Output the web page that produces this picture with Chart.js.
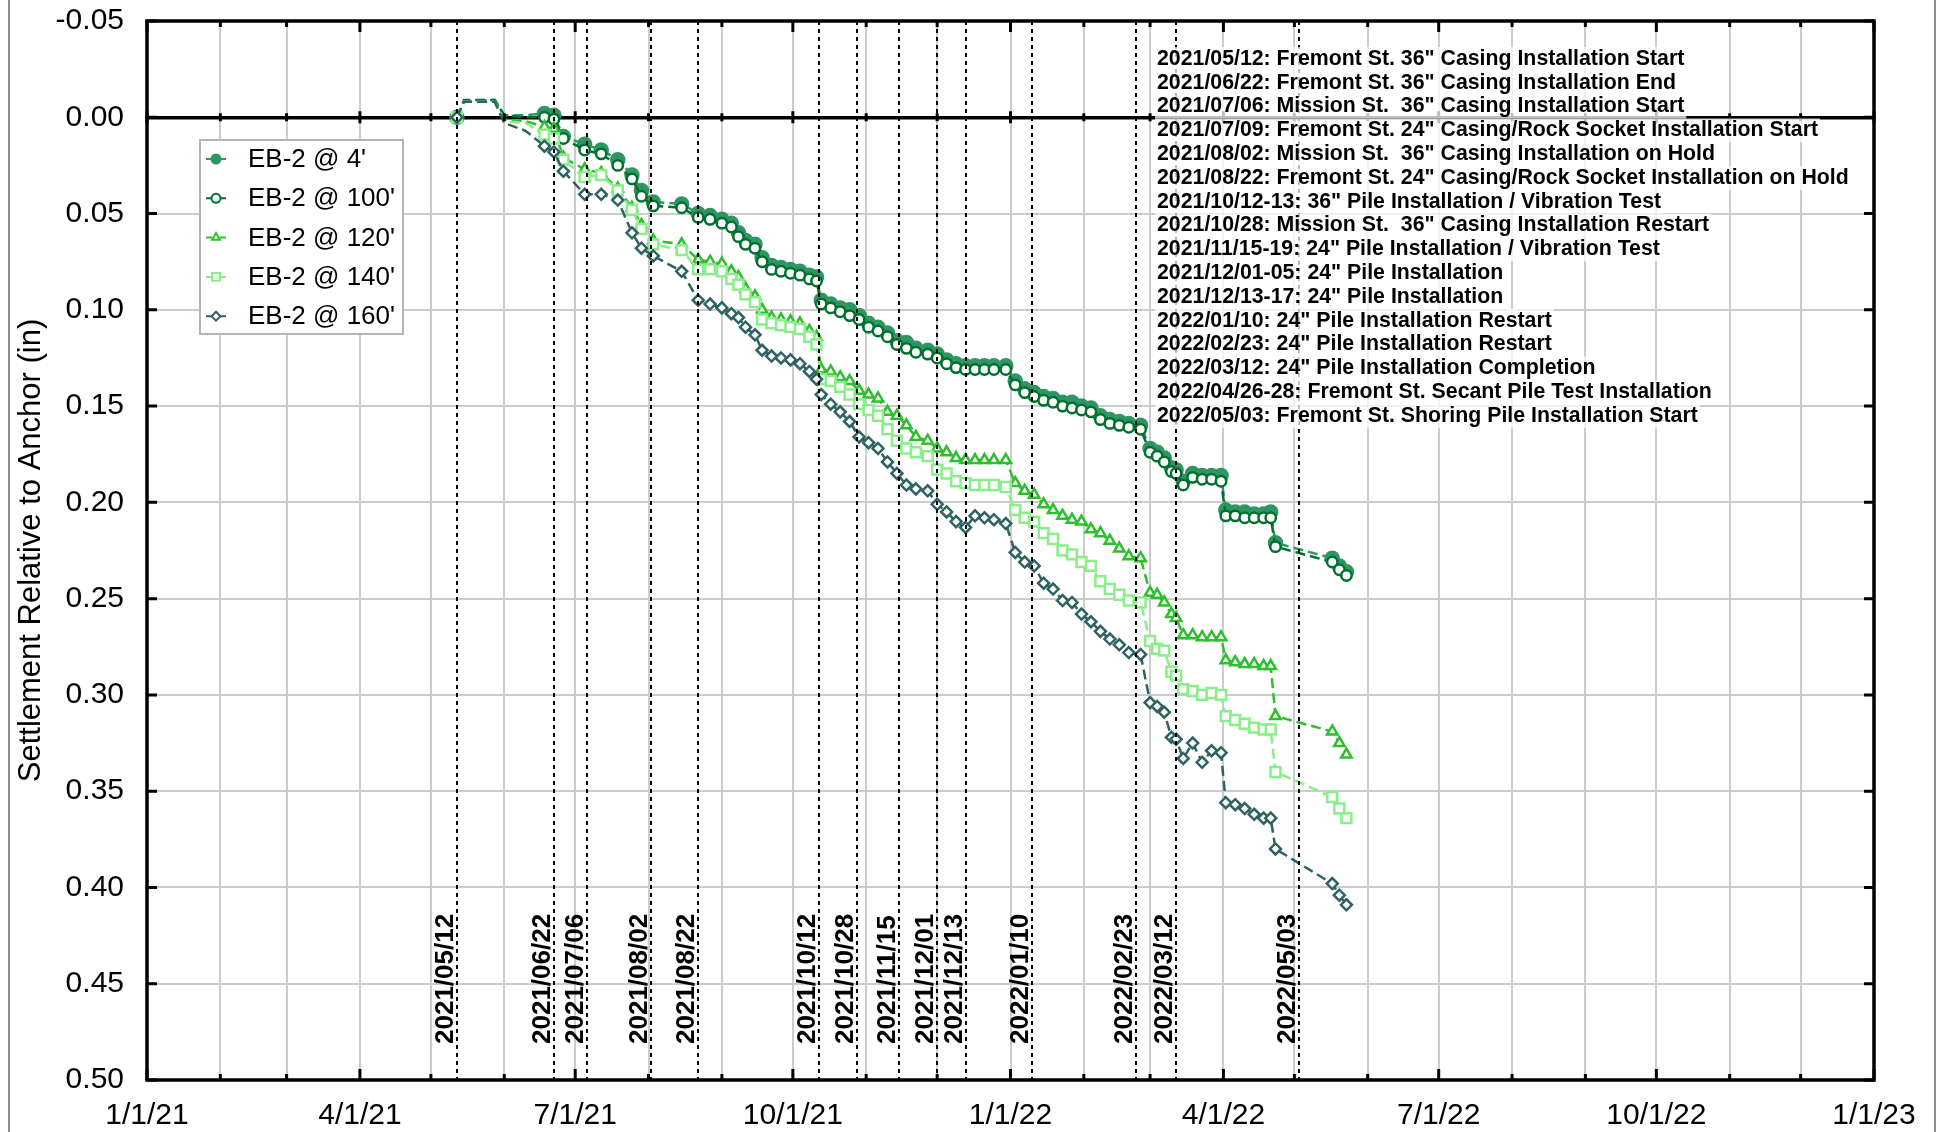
<!DOCTYPE html>
<html>
<head>
<meta charset="utf-8">
<title>EB-2 Settlement</title>
<script src="https://cdn.jsdelivr.net/npm/chart.js@4.4.1/dist/chart.umd.min.js"></script>
<style>
  html, body { margin: 0; padding: 0; background: #fff; }
  #wrap { width: 1940px; height: 1132px; position: relative; }
</style>
</head>
<body>
<div id="wrap"><canvas id="settlement-chart"></canvas></div>
<script>
// ---- data ----
const dates = [
  '2021-05-12', '2021-05-15', '2021-05-28', '2021-06-01', '2021-06-10', '2021-06-18', '2021-06-22', '2021-06-26',
  '2021-07-05', '2021-07-12', '2021-07-19', '2021-07-25', '2021-07-29', '2021-08-03', '2021-08-15', '2021-08-22',
  '2021-08-27', '2021-09-01', '2021-09-05', '2021-09-08', '2021-09-11', '2021-09-15', '2021-09-18', '2021-09-22',
  '2021-09-26', '2021-09-30', '2021-10-04', '2021-10-08', '2021-10-11', '2021-10-13', '2021-10-17', '2021-10-21',
  '2021-10-25', '2021-10-29', '2021-11-02', '2021-11-06', '2021-11-10', '2021-11-14', '2021-11-18', '2021-11-22',
  '2021-11-27', '2021-12-01', '2021-12-05', '2021-12-09', '2021-12-13', '2021-12-17', '2021-12-21', '2021-12-25',
  '2021-12-30', '2022-01-03', '2022-01-07', '2022-01-11', '2022-01-15', '2022-01-19', '2022-01-23', '2022-01-27',
  '2022-01-31', '2022-02-04', '2022-02-08', '2022-02-12', '2022-02-16', '2022-02-20', '2022-02-25', '2022-03-01',
  '2022-03-04', '2022-03-07', '2022-03-10', '2022-03-12', '2022-03-15', '2022-03-19', '2022-03-23', '2022-03-27',
  '2022-03-31', '2022-04-02', '2022-04-06', '2022-04-10', '2022-04-14', '2022-04-18', '2022-04-21', '2022-04-23',
  '2022-05-17', '2022-05-20', '2022-05-23'
]

const eb4 = [
  0.000, -0.008, -0.009, -0.001, -0.001, -0.002, -0.001, 0.010,
  0.014, 0.017, 0.022, 0.030, 0.038, 0.044, 0.045, 0.050,
  0.051, 0.053, 0.055, 0.060, 0.064, 0.066, 0.073, 0.077,
  0.078, 0.079, 0.080, 0.082, 0.083, 0.095, 0.097, 0.099,
  0.100, 0.103, 0.107, 0.109, 0.112, 0.116, 0.117, 0.120,
  0.121, 0.123, 0.126, 0.128, 0.129, 0.129, 0.129, 0.129,
  0.129, 0.137, 0.141, 0.143, 0.145, 0.146, 0.148, 0.148,
  0.150, 0.151, 0.155, 0.157, 0.158, 0.159, 0.160, 0.172,
  0.174, 0.177, 0.182, 0.183, 0.189, 0.185, 0.186, 0.186,
  0.186, 0.204, 0.205, 0.205, 0.206, 0.206, 0.205, 0.221,
  0.229, 0.233, 0.236
]

const eb100 = [
  0.000, -0.009, -0.009, -0.001, 0.000, 0.000, 0.001, 0.011,
  0.017, 0.019, 0.025, 0.032, 0.041, 0.046, 0.047, 0.052,
  0.053, 0.055, 0.057, 0.062, 0.066, 0.068, 0.075, 0.079,
  0.080, 0.081, 0.082, 0.084, 0.085, 0.097, 0.099, 0.101,
  0.103, 0.105, 0.109, 0.111, 0.114, 0.118, 0.120, 0.122,
  0.123, 0.125, 0.128, 0.130, 0.131, 0.131, 0.131, 0.131,
  0.131, 0.139, 0.143, 0.145, 0.147, 0.148, 0.150, 0.151,
  0.152, 0.153, 0.157, 0.159, 0.160, 0.161, 0.162, 0.174,
  0.176, 0.179, 0.184, 0.185, 0.191, 0.187, 0.188, 0.188,
  0.189, 0.207, 0.207, 0.208, 0.208, 0.208, 0.208, 0.223,
  0.231, 0.235, 0.238
]

const eb120 = [
  0.000, -0.008, -0.008, 0.001, 0.002, 0.005, 0.006, 0.021,
  0.027, 0.029, 0.037, 0.047, 0.056, 0.064, 0.066, 0.074,
  0.075, 0.076, 0.080, 0.083, 0.089, 0.093, 0.100, 0.104,
  0.105, 0.106, 0.107, 0.111, 0.114, 0.131, 0.132, 0.135,
  0.137, 0.142, 0.144, 0.146, 0.153, 0.155, 0.160, 0.166,
  0.168, 0.172, 0.174, 0.177, 0.178, 0.178, 0.178, 0.178,
  0.178, 0.190, 0.194, 0.196, 0.201, 0.204, 0.207, 0.209,
  0.210, 0.214, 0.216, 0.220, 0.224, 0.228, 0.229, 0.247,
  0.248, 0.252, 0.258, 0.260, 0.269, 0.269, 0.270, 0.270,
  0.270, 0.282, 0.283, 0.284, 0.284, 0.285, 0.285, 0.311,
  0.319, 0.325, 0.331
]

const eb140 = [
  0.000, -0.008, -0.008, 0.002, 0.003, 0.009, 0.011, 0.022,
  0.031, 0.030, 0.038, 0.048, 0.058, 0.066, 0.069, 0.079,
  0.079, 0.080, 0.084, 0.087, 0.092, 0.096, 0.105, 0.107,
  0.108, 0.109, 0.110, 0.114, 0.118, 0.136, 0.137, 0.140,
  0.144, 0.149, 0.152, 0.155, 0.162, 0.168, 0.172, 0.174,
  0.176, 0.183, 0.185, 0.189, 0.190, 0.191, 0.191, 0.191,
  0.192, 0.204, 0.208, 0.210, 0.216, 0.219, 0.225, 0.227,
  0.231, 0.233, 0.241, 0.245, 0.248, 0.251, 0.252, 0.272,
  0.276, 0.277, 0.288, 0.290, 0.297, 0.298, 0.300, 0.299,
  0.300, 0.311, 0.313, 0.315, 0.317, 0.318, 0.318, 0.340,
  0.353, 0.359, 0.364
]

const eb160 = [
  0.000, -0.008, -0.008, 0.003, 0.007, 0.015, 0.018, 0.028,
  0.040, 0.040, 0.043, 0.060, 0.068, 0.072, 0.080, 0.095,
  0.097, 0.099, 0.102, 0.104, 0.109, 0.113, 0.121, 0.124,
  0.125, 0.126, 0.128, 0.132, 0.136, 0.144, 0.149, 0.153,
  0.158, 0.166, 0.169, 0.172, 0.179, 0.185, 0.191, 0.193,
  0.194, 0.201, 0.205, 0.210, 0.213, 0.207, 0.208, 0.209,
  0.211, 0.226, 0.231, 0.233, 0.242, 0.245, 0.251, 0.252,
  0.258, 0.262, 0.267, 0.271, 0.274, 0.278, 0.279, 0.304,
  0.306, 0.309, 0.322, 0.323, 0.333, 0.325, 0.335, 0.329,
  0.330, 0.356, 0.357, 0.359, 0.362, 0.364, 0.364, 0.380,
  0.398, 0.404, 0.409
]

const seriesNames = ["EB-2 @ 4'", "EB-2 @ 100'", "EB-2 @ 120'", "EB-2 @ 140'", "EB-2 @ 160'"]

const eventDates = [
  '2021/05/12', '2021/06/22', '2021/07/06', '2021/08/02', '2021/08/22', '2021/10/12', '2021/10/28',
  '2021/11/15', '2021/12/01', '2021/12/13', '2022/01/10', '2022/02/23', '2022/03/12', '2022/05/03'
]

const notes = [
  '2021/05/12: Fremont St. 36" Casing Installation Start',
  '2021/06/22: Fremont St. 36" Casing Installation End',
  '2021/07/06: Mission St.  36" Casing Installation Start',
  '2021/07/09: Fremont St. 24" Casing/Rock Socket Installation Start',
  '2021/08/02: Mission St.  36" Casing Installation on Hold',
  '2021/08/22: Fremont St. 24" Casing/Rock Socket Installation on Hold',
  '2021/10/12-13: 36" Pile Installation / Vibration Test',
  '2021/10/28: Mission St.  36" Casing Installation Restart',
  '2021/11/15-19: 24" Pile Installation / Vibration Test',
  '2021/12/01-05: 24" Pile Installation',
  '2021/12/13-17: 24" Pile Installation',
  '2022/01/10: 24" Pile Installation Restart',
  '2022/02/23: 24" Pile Installation Restart',
  '2022/03/12: 24" Pile Installation Completion',
  '2022/04/26-28: Fremont St. Secant Pile Test Installation',
  '2022/05/03: Fremont St. Shoring Pile Installation Start'
]

const quarterTicks = ['2021-01-01', '2021-04-01', '2021-07-01', '2021-10-01', '2022-01-01',
  '2022-04-01', '2022-07-01', '2022-10-01', '2023-01-01']
const quarterLabels = ['1/1/21', '4/1/21', '7/1/21', '10/1/21', '1/1/22', '4/1/22', '7/1/22', '10/1/22', '1/1/23']

// ---- helpers ----
const FONT = "'Liberation Sans', Arial, Helvetica, sans-serif"
const DAY = 86400000
const ORIGIN = Date.UTC(2021, 0, 1)

function dayNum(s) {
  const [y, m, d] = s.split(/[-\/]/).map(Number)
  return (Date.UTC(y, m - 1, d) - ORIGIN) / DAY
}

const monthTicks = []
for (let y = 2021; y <= 2022; y++) {
  for (let m = 1; m <= 12; m++) monthTicks.push(dayNum(`${y}-${m}-1`))
}
monthTicks.push(dayNum('2023-1-1'))

const quarterMap = new Map(quarterTicks.map((d, i) => [dayNum(d), quarterLabels[i]]))

// early readings (mid May to mid June 2021) carry no marker in the original
const noMarkFrom = dayNum('2021-05-13')
const noMarkTo = dayNum('2021-06-12')

const styles = [
  { color: '#2f9663', fill: '#2f9663', point: 'circle', radius: 6.5, order: 5 },
  { color: '#00702f', fill: '#ffffff', point: 'circle', radius: 5.2, order: 4 },
  { color: '#2dbf2d', fill: '#ffffff', point: 'triangle', radius: 6, order: 3 },
  { color: '#8aee8a', fill: '#ffffff', point: 'rect', radius: 7, order: 2 },
  { color: '#2f6363', fill: '#ffffff', point: 'rectRot', radius: 5.5, order: 1 }
]

function makeSeries(i, values) {
  const s = styles[i]
  return {
    label: seriesNames[i],
    data: dates.map((d, k) => ({ x: dayNum(d), y: values[k] })),
    borderColor: s.color,
    backgroundColor: s.fill,
    pointBackgroundColor: s.fill,
    pointBorderColor: s.color,
    pointStyle: s.point,
    pointRadius: (c) => {
      const v = c.raw && c.raw.x
      return v >= noMarkFrom && v <= noMarkTo ? 0 : s.radius
    },
    pointBorderWidth: 2.5,
    borderWidth: 2.5,
    borderDash: [10, 5],
    tension: 0,
    fill: false,
    order: s.order
  }
}

/* ---- decorations: frame, inward ticks, event lines, notes, legend ---- */
const decor = {
  id: 'decor',
  beforeDraw(chart) {
    const { ctx } = chart
    ctx.save()
    ctx.strokeStyle = '#8a8a8a'
    ctx.lineWidth = 2
    ctx.beginPath()
    ctx.moveTo(9, 0); ctx.lineTo(9, chart.height)
    ctx.moveTo(1935, 0); ctx.lineTo(1935, chart.height)
    ctx.stroke()
    ctx.restore()
  },
  afterDatasetsDraw(chart) {
    const { ctx, chartArea: a, scales: { x } } = chart
    ctx.save()
    ctx.strokeStyle = '#000'
    ctx.lineWidth = 2
    ctx.setLineDash([4, 4])
    eventDates.forEach(d => {
      const px = Math.round(x.getPixelForValue(dayNum(d)))
      ctx.beginPath()
      ctx.moveTo(px, a.top)
      ctx.lineTo(px, a.bottom)
      ctx.stroke()
    })
    ctx.restore()
  },
  afterDraw(chart) {
    const { ctx, chartArea: a, scales: { x, y } } = chart
    ctx.save()

    // rotated event labels
    ctx.fillStyle = '#000'
    ctx.font = `bold 26px ${FONT}`
    ctx.textAlign = 'left'
    ctx.textBaseline = 'alphabetic'
    eventDates.forEach(d => {
      const px = x.getPixelForValue(dayNum(d))
      ctx.save()
      ctx.translate(px - 4, 1044)
      ctx.rotate(-Math.PI / 2)
      ctx.fillText(d, 0, 0)
      ctx.restore()
    })

    // frame
    ctx.strokeStyle = '#000'
    ctx.lineWidth = 3.5
    ctx.strokeRect(a.left, a.top, a.right - a.left, a.bottom - a.top)

    // inward ticks
    ctx.lineWidth = 3
    ctx.beginPath()
    y.ticks.forEach(t => {
      const py = y.getPixelForValue(t.value)
      ctx.moveTo(a.left, py); ctx.lineTo(a.left + 10, py)
      ctx.moveTo(a.right, py); ctx.lineTo(a.right - 10, py)
    })
    const zeroY = y.getPixelForValue(0)
    monthTicks.forEach(v => {
      const px = x.getPixelForValue(v)
      const len = quarterMap.has(v) ? 11 : 6
      ctx.moveTo(px, a.top); ctx.lineTo(px, a.top + len)
      ctx.moveTo(px, a.bottom); ctx.lineTo(px, a.bottom - len)
      const z = quarterMap.has(v) ? 6 : 4
      ctx.moveTo(px, zeroY - z); ctx.lineTo(px, zeroY + z)
    })
    ctx.stroke()

    // notes block
    ctx.font = `bold 21.3px ${FONT}`
    ctx.textBaseline = 'middle'
    const lh = 23.8
    notes.forEach((n, i) => {
      const ty = 59 + i * lh
      const w = ctx.measureText(n).width
      ctx.fillStyle = 'rgba(255,255,255,0.75)'
      ctx.fillRect(1155, ty - lh / 2, w + 4, lh)
      ctx.fillStyle = '#000'
      ctx.fillText(n, 1157, ty)
    })

    // legend
    ctx.fillStyle = '#fff'
    ctx.fillRect(200, 140, 203, 194)
    ctx.strokeStyle = '#b4b4b4'
    ctx.lineWidth = 2
    ctx.strokeRect(200, 140, 203, 194)
    ctx.font = `26px ${FONT}`
    chart.data.datasets.forEach((ds, i) => {
      const ly = 159 + i * 39.3
      ctx.strokeStyle = ds.borderColor
      ctx.lineWidth = 2
      ctx.beginPath()
      ctx.moveTo(206, ly); ctx.lineTo(212, ly)
      ctx.moveTo(220, ly); ctx.lineTo(226, ly)
      ctx.stroke()
      ctx.fillStyle = ds.pointBackgroundColor
      Chart.helpers.drawPoint(ctx, {
        pointStyle: ds.pointStyle, radius: ds.pointStyle === 'rect' ? 5.5 : 4.5,
        borderWidth: 2, rotation: 0
      }, 216, ly)
      ctx.fillStyle = '#000'
      ctx.fillText(ds.label, 248, ly + 1)
    })

    ctx.restore()
  }
}

const isZero = v => Math.abs(v) < 1e-9

new Chart(document.getElementById('settlement-chart'), {
  type: 'line',
  data: {
    datasets: [
      makeSeries(0, eb4),
      makeSeries(1, eb100),
      makeSeries(2, eb120),
      makeSeries(3, eb140),
      makeSeries(4, eb160)
    ]
  },
  options: {
    responsive: true,
    maintainAspectRatio: false,
    animation: false,
    events: [],
    layout: { padding: { top: 21, right: 66, left: 0, bottom: 0 } },
    plugins: {
      legend: { display: false },
      tooltip: { enabled: false }
    },
    scales: {
      x: {
        type: 'linear',
        min: dayNum('2021-01-01'),
        max: dayNum('2023-01-01'),
        afterBuildTicks: (scale) => { scale.ticks = monthTicks.map(v => ({ value: v })) },
        afterFit: (scale) => { scale.height = 52; scale.paddingLeft = 0; scale.paddingRight = 0 },
        border: { display: false },
        grid: { color: '#cccccc', lineWidth: 2, drawTicks: false },
        ticks: {
          autoSkip: false,
          maxRotation: 0,
          padding: 18,
          color: '#000',
          font: { family: FONT, size: 30 },
          callback: (v) => quarterMap.get(v) || ''
        }
      },
      y: {
        type: 'linear',
        reverse: true,
        min: -0.05,
        max: 0.5,
        afterFit: (scale) => { scale.width = 147; scale.paddingTop = 0; scale.paddingBottom = 0 },
        border: { display: false },
        grid: {
          drawTicks: false,
          color: (c) => isZero(c.tick.value) ? '#000' : '#cccccc',
          lineWidth: (c) => isZero(c.tick.value) ? 3.5 : 2
        },
        ticks: {
          stepSize: 0.05,
          padding: 23,
          color: '#000',
          font: { family: FONT, size: 30 },
          callback: (v) => Number(v).toFixed(2)
        },
        title: {
          display: true,
          text: 'Settlement Relative to Anchor (in)',
          color: '#000',
          font: { family: FONT, size: 31 },
          padding: { top: 13, bottom: 0 }
        }
      }
    }
  },
  plugins: [decor]
})
</script>
</body>
</html>
